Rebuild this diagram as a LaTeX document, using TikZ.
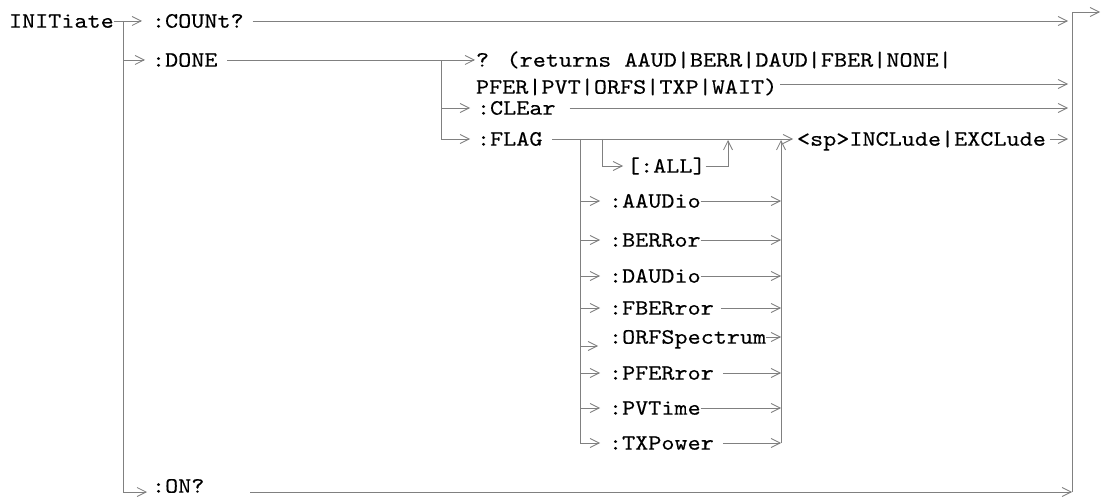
\documentclass[tikz,border=0pt]{standalone}
\usepackage{fontspec}
\newfontfamily\lmmono{lmmono10-regular.otf}[FakeBold=0.2]
\usetikzlibrary{arrows.meta}
\definecolor{lgray}{RGB}{128,128,128}
\newcommand{\stx}[1]{\scalebox{1.134}[1]{#1}}
\begin{document}
\begin{tikzpicture}[x=1pt,y=-1pt,
  lbl/.style={font=\lmmono\fontsize{22pt}{26pt}\selectfont, inner sep=0pt, outer sep=0pt,
              text height=13.4pt, text depth=0pt, anchor=west, text=black},
  wire/.style={draw=lgray, line width=0.8pt},
  arr/.style={wire, -{Straight Barb[length=9pt,width=9pt,line width=0.8pt]}},
  ]
\useasboundingbox (0,0) rectangle (1101,497);

% ---- text nodes ----
\node[lbl] (init)  at (9,21)    {\stx{INITiate}};
\node[lbl] (count) at (152,21)  {\stx{:COUNt?}};
\node[lbl] (done)  at (152,60)  {\stx{:DONE}};
\node[lbl] (q1)    at (476,60)  {\stx{? (returns AAUD|BERR|DAUD|FBER|NONE|}};
\node[lbl] (q2)    at (476,87)  {\stx{PFER|PVT|ORFS|TXP|WAIT)}};
\node[lbl] (clear) at (477,108) {\stx{:CLEar}};
\node[lbl] (flag)  at (477,139) {\stx{:FLAG}};
\node[lbl] (all)   at (627,166) {\stx{[:ALL]}};
\node[lbl] (aaud)  at (609,201) {\stx{:AAUDio}};
\node[lbl] (berr)  at (609,240) {\stx{:BERRor}};
\node[lbl] (daud)  at (609,276) {\stx{:DAUDio}};
\node[lbl] (fber)  at (609,308) {\stx{:FBERror}};
\node[lbl] (orfs)  at (609,337) {\stx{:ORFSpectrum}};
\node[lbl] (pfer)  at (609,373) {\stx{:PFERror}};
\node[lbl] (pvt)   at (609,408) {\stx{:PVTime}};
\node[lbl] (txp)   at (609,443) {\stx{:TXPower}};
\node[lbl] (sp)    at (797,139) {\stx{<sp>INCLude|EXCLude}};
\node[lbl] (on)    at (152,486) {\stx{:ON?}};

% ---- junction coordinates ----
\coordinate (jA)  at (123,21);
\coordinate (jAb) at (123,492);
\coordinate (jD)  at (441,60);
\coordinate (jDb) at (441,139);
\coordinate (jF)  at (580,139);
\coordinate (jFb) at (580,443);
\coordinate (jI)  at (602,139);
\coordinate (jIb) at (602,166);
\coordinate (jL)  at (728,166);
\coordinate (jLt) at (728,140);
\coordinate (rv)  at (781,443);
\coordinate (rvt) at (781,140);
\coordinate (fin) at (1068,0);
\coordinate (R)   at (1072,492);
\coordinate (Rt)  at (1072,12);
\coordinate (out) at (1100,12);

% ---- main level ----
\draw[arr] (init.east) -- ([xshift=-10pt]count.west);
\draw[wire] (jA) -- (jAb);
\draw[arr] (jA |- done.west) -- ([xshift=-7pt]done.west);
\draw[arr] (jAb) -- ([xshift=-5pt]on.west |- jAb);
\draw[arr] ([xshift=9pt]count.east) -- (fin |- count.east);
\draw[arr] ([xshift=46pt]on.east |- jAb) -- (R);
\draw[arr] (R) -- (Rt) -- (out);

% ---- :DONE ----
\draw[wire] ([xshift=10pt]done.east) -- (jD) -- (jDb);
\draw[arr] (jD) -- ([xshift=-1pt]q1.west);
\draw[arr] (jD |- clear.west) -- ([xshift=-7pt]clear.west);
\draw[arr] (jDb) -- ([xshift=-7pt]flag.west);
\draw[arr] ([xshift=3pt]q2.east |- 0,84) -- (fin |- 0,84);
\draw[arr] ([xshift=14pt]clear.east) -- (fin |- clear.east);

% ---- :FLAG ----
\draw[arr] ([xshift=10pt]flag.east) -- ([xshift=-4pt]sp.west);
\draw[wire] (jF) -- (jFb);
\draw[wire] (jI) -- (jIb);
\draw[arr] (jIb) -- ([xshift=-4pt]all.west |- jIb);
\draw[arr] (all.east |- jL) -- (jL) -- (jLt);
\draw[arr] (rv) -- (rvt);
\draw[arr] ([xshift=4pt]sp.east) -- (fin |- sp.east);

\foreach \n in {aaud,berr,daud,fber,pfer,pvt,txp}{
  \draw[arr] (jF |- \n.west) -- ([xshift=-9pt]\n.west);
}
\draw[arr] (jF |- 0,346) -- ([xshift=-11pt]orfs.west |- 0,346);

\draw[arr] (aaud.east) -- (rv |- aaud.east);
\draw[arr] (berr.east) -- (rv |- berr.east);
\draw[arr] (daud.east) -- (rv |- daud.east);
\draw[arr] ([xshift=7pt]fber.east) -- (rv |- fber.east);
\draw[arr] (orfs.east) -- (rv |- orfs.east);
\draw[arr] ([xshift=9pt]pfer.east) -- (rv |- pfer.east);
\draw[arr] (pvt.east) -- (rv |- pvt.east);
\draw[arr] ([xshift=9pt]txp.east) -- (rv |- txp.east);
\end{tikzpicture}
\end{document}
